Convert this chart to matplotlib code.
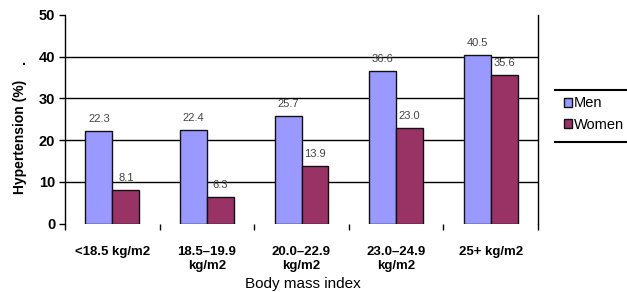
import matplotlib
matplotlib.use("Agg")
import matplotlib.pyplot as plt
from matplotlib.lines import Line2D
from matplotlib.patches import Patch
import numpy as np

categories = ["<18.5 kg/m2", "18.5\u201319.9\nkg/m2", "20.0\u201322.9\nkg/m2", "23.0\u201324.9\nkg/m2", "25+ kg/m2"]
men = [22.3, 22.4, 25.7, 36.6, 40.5]
women = [8.1, 6.3, 13.9, 23.0, 35.6]
men_labels = ["22.3", "22.4", "25.7", "36.6", "40.5"]
women_labels = ["8.1", "6.3", "13.9", "23.0", "35.6"]
yticks = [0, 10, 20, 30, 40, 50]

plt.rcParams['font.family'] = ['Liberation Sans', 'DejaVu Sans']

W, H = 627, 292
fig = plt.figure(figsize=(W / 100, H / 100), dpi=100)
ax = fig.add_axes([65 / W, 1 - 223.5 / H, (538 - 65) / W, (223.5 - 15) / H])

men_c = "#9999FF"
women_c = "#993366"
x = np.arange(len(categories))
bw = 0.285
ax.bar(x - bw / 2, men, bw, color=men_c, edgecolor="#111111", linewidth=1.0, zorder=3)
ax.bar(x + bw / 2, women, bw, color=women_c, edgecolor="#111111", linewidth=1.0, zorder=3)

for xi, v, s in zip(x, men, men_labels):
    ax.annotate(s, (xi - bw / 2, v), xytext=(0, 5), textcoords="offset points",
                ha="center", va="bottom", fontsize=8, color="#444444")
for xi, v, s in zip(x, women, women_labels):
    ax.annotate(s, (xi + bw / 2, v), xytext=(0, 5), textcoords="offset points",
                ha="center", va="bottom", fontsize=8, color="#444444")

ax.set_xlim(-0.5, len(categories) - 0.5)
ax.set_ylim(0, 50)
ax.set_yticks(yticks)
ax.set_yticklabels([str(t) for t in yticks], fontsize=10.5, fontweight="bold")
for t in yticks[1:-1]:
    ax.axhline(t, color="black", linewidth=1.0, zorder=1)

ax.set_xticks(x)
ax.set_xticklabels(categories, fontsize=9.5, fontweight="bold", linespacing=1.2)
ax.set_xticks(np.arange(len(categories) + 1) - 0.5, minor=True)
ax.tick_params(axis="x", which="major", length=0, pad=16)
ax.tick_params(axis="x", which="minor", length=4, width=1, direction="out")
ax.tick_params(axis="y", length=4, width=1, direction="out", pad=3)

ax.spines["top"].set_visible(False)
ax.spines["bottom"].set_visible(False)
ax.spines["left"].set_linewidth(1.0)
ax.spines["right"].set_linewidth(1.0)

fig.text(20 / W, 1 - 137 / H, "Hypertension (%)", rotation=90, ha="center", va="center",
         fontsize=10, fontweight="bold")
fig.text(24 / W, 1 - 61 / H, ".", ha="center", va="center", fontsize=10, fontweight="bold")
fig.text(303 / W, 1 - 284 / H, "Body mass index", ha="center", va="center", fontsize=11)

# Legend
fig.add_artist(Line2D([555 / W, 1.0], [1 - 90 / H, 1 - 90 / H], color="black", linewidth=1.5,
                      transform=fig.transFigure))
fig.add_artist(Line2D([555 / W, 1.0], [1 - 142 / H, 1 - 142 / H], color="black", linewidth=1.5,
                      transform=fig.transFigure))
handles = [Patch(facecolor=men_c, edgecolor="#111111", linewidth=1.0, label="Men"),
           Patch(facecolor=women_c, edgecolor="#111111", linewidth=1.0, label="Women")]
fig.legend(handles=handles, loc="center left", bbox_to_anchor=(564 / W, 1 - 114 / H),
           frameon=False, fontsize=10.5, handlelength=0.55, handleheight=0.6,
           handletextpad=0.1, labelspacing=0.5, borderpad=0, borderaxespad=0)

fig.savefig("out.png", dpi=100)
